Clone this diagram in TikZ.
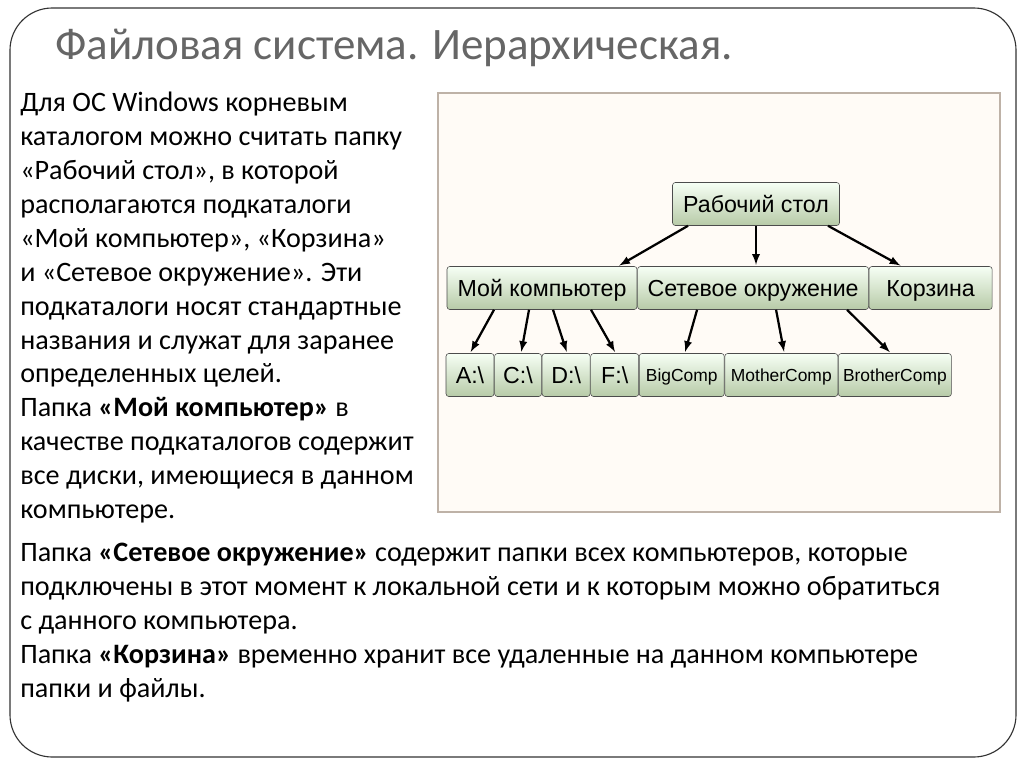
\documentclass[tikz,border=0pt]{standalone}
\usepackage{fontspec}
\setmainfont{Carlito}
\setsansfont{Liberation Sans}
\usepackage{tikz}
\usetikzlibrary{positioning}

\tikzset{
  folder/.style={draw=black!70, rounded corners=2pt, top color=yellow!12!green!4, bottom color=yellow!45!green!25!gray!55,
    minimum height=43*0.025cm, inner sep=0pt, text height=14pt, text depth=2pt, font=\fontsize{16.5}{19}\selectfont\sffamily},
  small/.style={folder, text height=11pt, font=\fontsize{12.4}{14}\selectfont\sffamily},
  arr/.style={->, >=latex, line width=1.6pt, shorten >=1pt},
  body/.style={anchor=north west, align=left, inner sep=0pt, font=\fontsize{20}{24.1}\selectfont}
}

\begin{document}
\begin{tikzpicture}[x=0.025cm, y=-0.025cm]
    \useasboundingbox (0,0) rectangle (1024,768);
    \fill[white] (0,0) rectangle (1024,768);
    % outer frame
    \draw[black!80, line width=0.8pt, rounded corners=30] (10,8) rectangle (1016,757);
    \node[anchor=base west, text=black!60, font=\fontsize{32}{36}\selectfont, inner sep=0pt] (title) at (55,60)
      {Файловая система. Иерархическая.};
    % picture area
    \draw[draw=brown!30!gray!60, fill=yellow!6!orange!3, line width=1pt] (438,93) rectangle (1000,512);

    \node[folder, minimum width=167*0.025cm] (rs) at (756,204) {Рабочий стол};
    \node[folder, minimum width=190*0.025cm] (mc) at (542,288) {Мой компьютер};
    \node[folder, minimum width=231*0.025cm, right=0pt of mc] (net) {Сетевое окружение};
    \node[folder, minimum width=123*0.025cm, right=0pt of net] (bin) {Корзина};
    \node[folder, minimum width=48*0.025cm] (da) at (470,375) {A:\textbackslash};
    \node[folder, minimum width=47*0.025cm, right=0pt of da] (dc) {C:\textbackslash};
    \node[folder, minimum width=48*0.025cm, right=0pt of dc] (dd) {D:\textbackslash};
    \node[folder, minimum width=48*0.025cm, right=0pt of dd] (df) {F:\textbackslash};
    \node[small, minimum width=85*0.025cm, right=0pt of df] (big) {BigComp};
    \node[small, minimum width=113*0.025cm, right=0pt of big] (mother) {MotherComp};
    \node[small, minimum width=113*0.025cm, right=0pt of mother] (brother) {BrotherComp};

    \draw[arr] ([xshift=-68*0.025cm]rs.south) -- ([xshift=76*0.025cm]mc.north);
    \draw[arr] (rs.south) -- (rs.south |- net.north);
    \draw[arr] ([xshift=72*0.025cm]rs.south) -- ([xshift=-29*0.025cm]bin.north);
    \draw[arr] ([xshift=-48*0.025cm]mc.south) -- (da.north);
    \draw[arr] ([xshift=-13*0.025cm]mc.south) -- ([xshift=3*0.025cm]dc.north);
    \draw[arr] ([xshift=11*0.025cm]mc.south) -- ([xshift=1*0.025cm]dd.north);
    \draw[arr] ([xshift=49*0.025cm]mc.south) -- ([xshift=1*0.025cm]df.north);
    \draw[arr] ([xshift=-56*0.025cm]net.south) -- ([xshift=3*0.025cm]big.north);
    \draw[arr] ([xshift=23*0.025cm]net.south) -- ([xshift=3*0.025cm]mother.north);
    \draw[arr] ([xshift=94*0.025cm]net.south) -- ([xshift=-4*0.025cm]brother.north);

    % text
    \node[body] (left) at (20,92) {Для ОС Windows корневым\\
      каталогом можно считать папку\\
      «Рабочий стол», в которой\\
      располагаются подкаталоги\\
      «Мой компьютер», «Корзина»\\
      и «Сетевое окружение». Эти\\
      подкаталоги носят стандартные\\
      названия и служат для заранее\\
      определенных целей.\\
      Папка \textbf{«Мой компьютер»} в\\
      качестве подкаталогов содержит\\
      все диски, имеющиеся в данном\\
      компьютере.};
    \node[body] (bottom) at (20,543) {Папка \textbf{«Сетевое окружение»} содержит папки всех компьютеров, которые\\
      подключены в этот момент к локальной сети и к которым можно обратиться\\
      с данного компьютера.\\
      Папка \textbf{«Корзина»} временно хранит все удаленные на данном компьютере\\
      папки и файлы.};
\end{tikzpicture}
\end{document}
